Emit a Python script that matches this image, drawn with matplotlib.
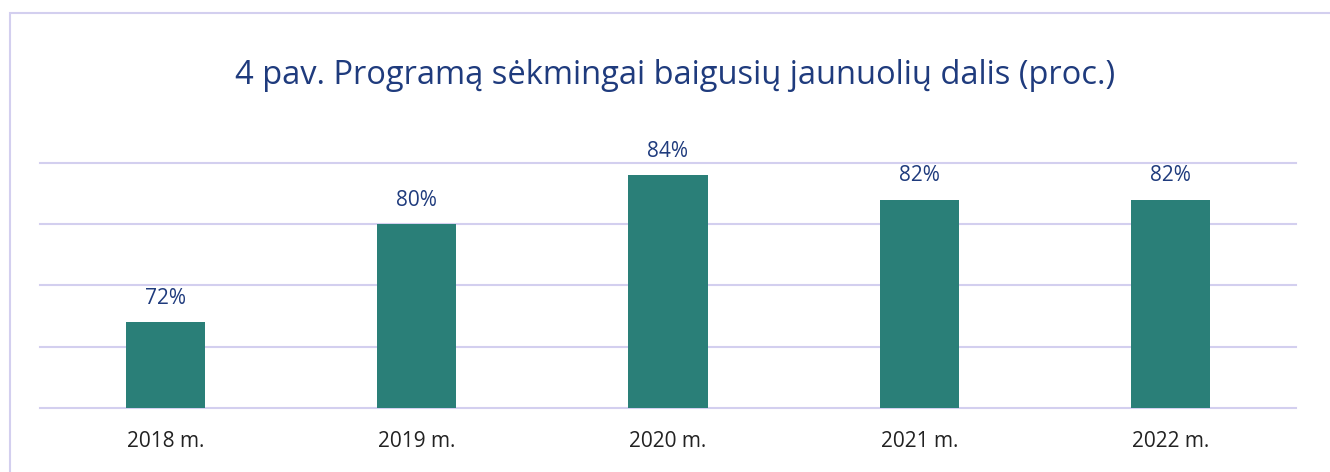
import numpy as np
from matplotlib import pyplot as plt
from matplotlib.patches import Rectangle

years = ['2018 m.', '2019 m.', '2020 m.', '2021 m.', '2022 m.']
shares = [72, 80, 84, 82, 82]  # proc.

navy = '#1F3B7D'
teal = '#2A7F78'
grid = '#D3CFEF'

plt.rcParams['font.family'] = ['Open Sans', 'DejaVu Sans']

fig = plt.figure(figsize=(13.3, 4.72), dpi=100)
ax = fig.add_axes([40/1330, 1-408/472, 1256/1330, 245/472])

x = np.arange(len(years))
ax.bar(x, shares, width=0.315, color=teal, zorder=3)
for xi, v in zip(x, shares):
    ax.text(xi, v + 1.1, f'{v}%', ha='center', va='bottom', fontsize=15, color=navy)

ax.set_xlim(-0.5, len(years) - 0.5)
ax.set_ylim(65, 85)
ax.set_yticks(np.arange(65, 86, 5))
ax.yaxis.grid(True, color=grid, linewidth=1.5, zorder=0)
for gl in ax.get_ygridlines():
    gl.set_clip_on(False)
ax.tick_params(left=False, labelleft=False, bottom=False)
ax.set_xticks(x)
ax.set_xticklabels(years, fontsize=15, color='#222222')
ax.tick_params(axis='x', pad=13)
for s in ax.spines.values():
    s.set_visible(False)

fig.text(675/1330, 1-75/472, '4 pav. Programą sėkmingai baigusių jaunuolių dalis (proc.)',
         ha='center', va='center', fontsize=23.5, color=navy)

fig.patches.append(Rectangle((10/1330, -0.1), 1.2, 1-13/472+0.1, transform=fig.transFigure,
                             fill=False, edgecolor=grid, linewidth=1.5))

fig.savefig('out.png', dpi=100)
